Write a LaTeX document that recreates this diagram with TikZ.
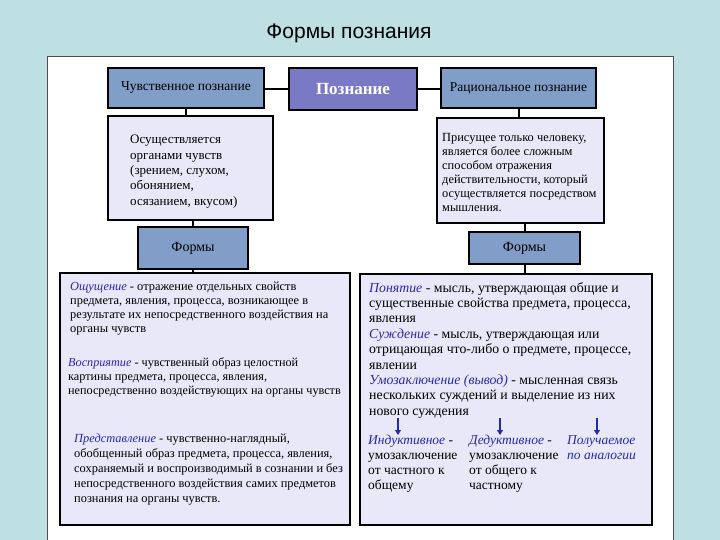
\documentclass[tikz,border=0pt]{standalone}
\usepackage{fontspec}
\setmainfont{Liberation Serif}
\newfontfamily\titlefont{Liberation Sans}
\usetikzlibrary{arrows.meta}
\definecolor{bgc}{RGB}{190,224,226}
\definecolor{boxblue}{RGB}{128,158,200}
\definecolor{boxpurple}{RGB}{122,122,196}
\definecolor{lav}{RGB}{232,232,248}
\definecolor{termblue}{RGB}{40,40,170}
\newcommand{\term}[1]{\textcolor{termblue}{\textit{#1}}}
\begin{document}
\begin{tikzpicture}[x=1pt,y=-1pt,
  hdr/.style={draw=black, line width=2.5pt, fill=boxblue, inner sep=0, font=\fontsize{13.5}{15}\selectfont},
  mainbox/.style={draw=black, line width=2.5pt, fill=boxpurple, inner sep=0, text=white, font=\fontsize{17}{19}\selectfont\bfseries},
  descbox/.style={draw=black, line width=2.5pt, fill=lav, inner sep=0},
  bigbox/.style={draw=black, line width=2.5pt, fill=lav, inner sep=0},
  txt/.style={anchor=north west, inner sep=0, align=left},
  conn/.style={draw=black, line width=2pt},
  blarrow/.style={draw=termblue, line width=1.8pt, -{Triangle[length=5pt,width=6pt]}}
]
\fill[bgc] (0,0) rectangle (720,540);
\useasboundingbox (0,0) rectangle (720,540);
\node[font=\titlefont\fontsize{21}{23}\selectfont] (title) at (349,33) {Формы познания};
\fill[white, draw=black!70, line width=0.8pt] (47,56) rectangle (673,545);

% top row
\node[hdr, minimum width=156, minimum height=40] (sens) at (186,88) {Чувственное познание};
\node[mainbox, minimum width=128, minimum height=42] (pz) at (353,89) {Познание};
\node[hdr, minimum width=155, minimum height=40] (rat) at (518.5,88) {Рациональное познание};

% description boxes
\node[descbox, minimum width=165, minimum height=104] (ld) at (190.5,168) {};
\node[descbox, minimum width=167, minimum height=105] (rd) at (520.5,170.5) {};
\node[txt, font=\fontsize{13}{15.3}\selectfont] (ldt) at (130,135) {Осуществляется\\органами чувств\\(зрением, слухом,\\обонянием,\\осязанием, вкусом)};
\node[txt, font=\fontsize{12.4}{14}\selectfont] (rdt) at (442,133) {Присущее только человеку,\\является более сложным\\способом отражения\\действительности, который\\осуществляется посредством\\мышления.};

% forms boxes
\node[hdr, minimum width=110, minimum height=42, font=\fontsize{14}{16}\selectfont] (lf) at (193,248) {Формы};
\node[hdr, minimum width=111, minimum height=32, font=\fontsize{14}{16}\selectfont] (rf) at (524.5,248) {Формы};

% big boxes
\node[bigbox, minimum width=290, minimum height=252] (lb) at (205,399) {};
\node[bigbox, minimum width=292, minimum height=251] (rb) at (506,399.5) {};

% connectors
\draw[conn] (pz.west) -- (pz.west -| sens.east);
\draw[conn] (pz.east) -- (pz.east -| rat.west);
\draw[conn] (sens.south) -- (sens.south |- ld.north);
\draw[conn] (rat.south) -- (rat.south |- rd.north);
\draw[conn] (lf.north) -- (lf.north |- ld.south);
\draw[conn] (rf.north) -- (rf.north |- rd.south);
\draw[conn] (lf.south) -- (lf.south |- lb.north);
\draw[conn] (rf.south) -- (rf.south |- rb.north);

% left big box text
\node[txt, font=\fontsize{12.4}{14}\selectfont] (p1) at (70,282) {\term{Ощущение} - отражение отдельных свойств\\предмета, явления, процесса, возникающее в\\результате их непосредственного воздействия на\\органы чувств};
\node[txt, font=\fontsize{12.2}{14}\selectfont] (p2) at (68,358) {\term{Восприятие} - чувственный образ целостной\\картины предмета, процесса, явления,\\непосредственно воздействующих на органы чувств};
\node[txt, font=\fontsize{12.4}{14.8}\selectfont] (p3) at (74,434) {\term{Представление} - чувственно-наглядный,\\обобщенный образ предмета, процесса, явления,\\сохраняемый и воспроизводимый в сознании и без\\непосредственного воздействия самих предметов\\познания на органы чувств.};

% right big box text
\node[txt, font=\fontsize{13.8}{15.4}\selectfont] (q1) at (369,282) {\term{Понятие} - мысль, утверждающая общие и\\существенные свойства предмета, процесса,\\явления\\\term{Суждение} - мысль, утверждающая или\\отрицающая что-либо о предмете, процессе,\\явлении\\\term{Умозаключение (вывод)} - мысленная связь\\нескольких суждений и выделение из них\\нового суждения};

\node[txt, font=\fontsize{13.5}{15}\selectfont] (ind) at (368,435) {\term{Индуктивное} -\\умозаключение\\от частного к\\общему};
\node[txt, font=\fontsize{13.5}{15}\selectfont] (ded) at (469,435) {\term{Дедуктивное} -\\умозаключение\\от общего к\\частному};
\node[txt, font=\fontsize{13.5}{15}\selectfont] (ana) at (567,435) {\term{Получаемое}\\\term{по аналогии}};

\coordinate (a1s) at (398,418);
\coordinate (a2s) at (500,418);
\coordinate (a3s) at (597,418);
\draw[blarrow] (a1s) -- (a1s |- ind.north);
\draw[blarrow] (a2s) -- (a2s |- ded.north);
\draw[blarrow] (a3s) -- (a3s |- ana.north);
\end{tikzpicture}
\end{document}
